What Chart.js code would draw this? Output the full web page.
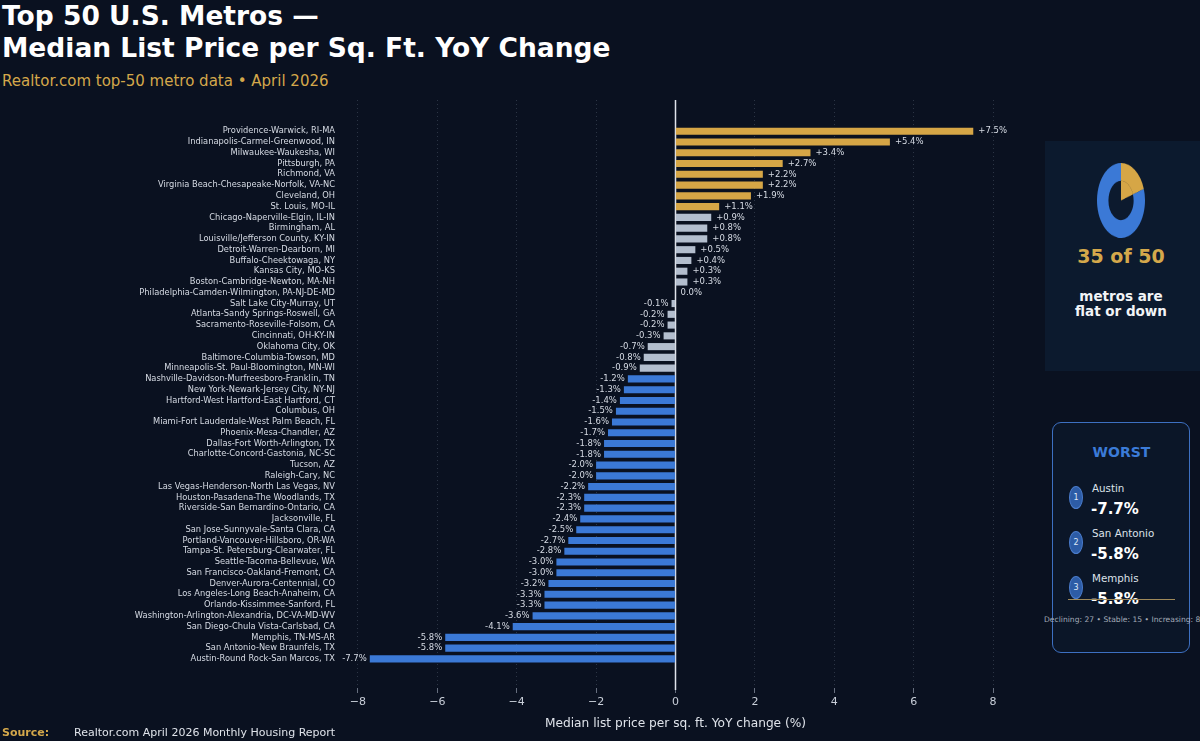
<!DOCTYPE html>
<html>
<head>
<meta charset="utf-8">
<script src="https://cdn.jsdelivr.net/npm/chart.js@4"></script>
<style>
  html, body { margin: 0; padding: 0; background: #0a1120; }
  body { width: 1200px; height: 741px; position: relative; overflow: hidden; font-family: "DejaVu Sans", sans-serif; }
  .abs { position: absolute; white-space: nowrap; }
  #title { left: 2px; top: 0px; color: #ffffff; font-weight: bold; font-size: 26.5px; line-height: 32px; }
  #subtitle { left: 2px; top: 72px; color: #d4a84b; font-size: 15px; }
  #main { position: absolute; left: 0; top: 0; }
  #panel1 { left: 1045px; top: 141px; width: 155px; height: 230px; background: #0c1a2e; }
  #donutWrap { left: 1097px; top: 163px; width: 48px; height: 48px; transform-origin: 0 0; transform: scaleY(1.56); }
  #bigNum { left: 1045px; width: 152px; top: 245px; text-align: center; color: #d4a84b; font-weight: bold; font-size: 19px; }
  #flatTxt { left: 1045px; width: 152px; top: 289px; text-align: center; color: #f2f4f7; font-weight: bold; font-size: 13.5px; line-height: 15px; }
  #panel2 { left: 1052px; top: 422px; width: 136px; height: 229px; border: 1.5px solid #3d70c2; border-radius: 9px; background: #0b1628; }
  #worstHd { left: 1052px; width: 139px; top: 444px; text-align: center; color: #3b7bd8; font-weight: bold; font-size: 14px; }
  .badge { width: 12px; height: 21px; border-radius: 50%; background: #2d5ca6; border: 1px solid #4a7ccc; color: #dfe8f7; font-size: 8px; line-height: 21px; text-align: center; }
  .wname { color: #dde2ea; font-size: 10.3px; }
  .wval { color: #ffffff; font-weight: bold; font-size: 15px; }
  #goldLine { left: 1068px; top: 599px; width: 107px; height: 1.3px; background: #a08a5a; }
  #stats { left: 1044px; width: 155px; top: 615px; text-align: center; color: #a3abb8; font-size: 7.6px; }
  #source { left: 2px; top: 726px; color: #d4a84b; font-weight: bold; font-size: 11px; }
  #sourceTxt { left: 74px; top: 726px; color: #dfe3ea; font-size: 11px; }
</style>
</head>
<body>
<div id="title" class="abs">Top 50 U.S. Metros —<br>Median List Price per Sq. Ft. YoY Change</div>
<div id="subtitle" class="abs">Realtor.com top-50 metro data • April 2026</div>
<canvas id="main" width="1030" height="741"></canvas>

<div id="panel1" class="abs"></div>
<div id="donutWrap" class="abs"><canvas id="donut" width="48" height="48"></canvas></div>
<div id="bigNum" class="abs"></div>
<div id="flatTxt" class="abs">metros are<br>flat or down</div>

<div id="panel2" class="abs"></div>
<div id="worstHd" class="abs">WORST</div>
<div id="worstList"></div>
<div id="goldLine" class="abs"></div>
<div id="stats" class="abs"></div>

<div id="source" class="abs">Source:</div>
<div id="sourceTxt" class="abs">Realtor.com April 2026 Monthly Housing Report</div>

<script>
// metros, top to bottom as drawn
const metros = [
  'Providence-Warwick, RI-MA', 'Indianapolis-Carmel-Greenwood, IN', 'Milwaukee-Waukesha, WI',
  'Pittsburgh, PA', 'Richmond, VA', 'Virginia Beach-Chesapeake-Norfolk, VA-NC', 'Cleveland, OH',
  'St. Louis, MO-IL', 'Chicago-Naperville-Elgin, IL-IN', 'Birmingham, AL',
  'Louisville/Jefferson County, KY-IN', 'Detroit-Warren-Dearborn, MI', 'Buffalo-Cheektowaga, NY',
  'Kansas City, MO-KS', 'Boston-Cambridge-Newton, MA-NH', 'Philadelphia-Camden-Wilmington, PA-NJ-DE-MD',
  'Salt Lake City-Murray, UT', 'Atlanta-Sandy Springs-Roswell, GA', 'Sacramento-Roseville-Folsom, CA',
  'Cincinnati, OH-KY-IN', 'Oklahoma City, OK', 'Baltimore-Columbia-Towson, MD',
  'Minneapolis-St. Paul-Bloomington, MN-WI', 'Nashville-Davidson-Murfreesboro-Franklin, TN',
  'New York-Newark-Jersey City, NY-NJ', 'Hartford-West Hartford-East Hartford, CT', 'Columbus, OH',
  'Miami-Fort Lauderdale-West Palm Beach, FL', 'Phoenix-Mesa-Chandler, AZ', 'Dallas-Fort Worth-Arlington, TX',
  'Charlotte-Concord-Gastonia, NC-SC', 'Tucson, AZ', 'Raleigh-Cary, NC',
  'Las Vegas-Henderson-North Las Vegas, NV', 'Houston-Pasadena-The Woodlands, TX',
  'Riverside-San Bernardino-Ontario, CA', 'Jacksonville, FL', 'San Jose-Sunnyvale-Santa Clara, CA',
  'Portland-Vancouver-Hillsboro, OR-WA', 'Tampa-St. Petersburg-Clearwater, FL', 'Seattle-Tacoma-Bellevue, WA',
  'San Francisco-Oakland-Fremont, CA', 'Denver-Aurora-Centennial, CO', 'Los Angeles-Long Beach-Anaheim, CA',
  'Orlando-Kissimmee-Sanford, FL', 'Washington-Arlington-Alexandria, DC-VA-MD-WV',
  'San Diego-Chula Vista-Carlsbad, CA', 'Memphis, TN-MS-AR', 'San Antonio-New Braunfels, TX',
  'Austin-Round Rock-San Marcos, TX'
];
const yoyChange = [
  7.5, 5.4, 3.4, 2.7, 2.2, 2.2, 1.9, 1.1, 0.9, 0.8,
  0.8, 0.5, 0.4, 0.3, 0.3, 0.0, -0.1, -0.2, -0.2, -0.3,
  -0.7, -0.8, -0.9, -1.2, -1.3, -1.4, -1.5, -1.6, -1.7, -1.8,
  -1.8, -2.0, -2.0, -2.2, -2.3, -2.3, -2.4, -2.5, -2.7, -2.8,
  -3.0, -3.0, -3.2, -3.3, -3.3, -3.6, -4.1, -5.8, -5.8, -7.7
];
const xTicks = [-8, -6, -4, -2, 0, 2, 4, 6, 8];

// side panels
const donutSlices = [10, 40];          // gold wedge, blue ring (as drawn)
const flatOrDown = 35, totalMetros = 50;
const worstNames = ['Austin', 'San Antonio', 'Memphis'];
const worstValues = [-7.7, -5.8, -5.8];
const statLabels = ['Declining', 'Stable', 'Increasing'];
const statCounts = [27, 15, 8];

const GOLD = '#d6a646', GREY = '#b3bece', BLUE = '#3b79d6';
const TXT = '#d6dbe4';

function barColor(v) {
  if (v > 1) return GOLD;
  if (v > -1) return GREY;
  return BLUE;
}
function fmt(v) {
  if (v > 0) return '+' + v.toFixed(1) + '%';
  return v.toFixed(1) + '%';
}

const valueLabels = {
  id: 'valueLabels',
  beforeDatasetsDraw(chart) {
    // zero reference line
    const ctx = chart.ctx, x = chart.scales.x.getPixelForValue(0);
    ctx.save();
    ctx.strokeStyle = '#dfe3ea';
    ctx.lineWidth = 1.5;
    ctx.beginPath();
    ctx.moveTo(x, chart.chartArea.top);
    ctx.lineTo(x, chart.chartArea.bottom + 2);
    ctx.stroke();
    ctx.restore();
  },
  afterDatasetsDraw(chart) {
    const ctx = chart.ctx;
    const meta = chart.getDatasetMeta(0);
    ctx.save();
    ctx.font = '8.5px "DejaVu Sans"';
    ctx.fillStyle = TXT;
    ctx.textBaseline = 'middle';
    meta.data.forEach((el, i) => {
      const v = yoyChange[i];
      if (v < 0) {
        ctx.textAlign = 'right';
        ctx.fillText(fmt(v), el.x - 3, el.y);
      } else {
        ctx.textAlign = 'left';
        ctx.fillText(fmt(v), el.x + 5, el.y);
      }
    });
    ctx.restore();
  }
};

new Chart(document.getElementById('main'), {
  type: 'bar',
  data: {
    datasets: [{
      data: yoyChange.map((v, i) => ({ x: v, y: i })),
      backgroundColor: yoyChange.map(barColor),
      borderWidth: 0,
      categoryPercentage: 1,
      barPercentage: 0.66
    }]
  },
  options: {
    indexAxis: 'y',
    responsive: false,
    animation: false,
    devicePixelRatio: 1,
    layout: { padding: { top: 100, right: 21, left: 0, bottom: 0 } },
    plugins: { legend: { display: false }, tooltip: { enabled: false } },
    scales: {
      x: {
        type: 'linear',
        min: -8.4,
        max: 8.4,
        afterFit(axis) { axis.height = 53; },
        afterBuildTicks(axis) { axis.ticks = xTicks.map(v => ({ value: v })); },
        ticks: {
          color: '#c9cfd9',
          font: { family: 'DejaVu Sans', size: 11 },
          padding: 3,
          callback: v => (v < 0 ? '\u2212' + Math.abs(v) : String(v))
        },
        grid: {
          color: c => (c.tick && c.tick.value === 0 ? 'rgba(0,0,0,0)' : 'rgba(120,132,152,0.4)'),
          lineWidth: 0.8,
          tickColor: '#7f8898',
          tickLength: 5,
          tickBorderDash: []
        },
        border: { display: false, dash: [1, 3] },
        title: {
          display: true,
          text: 'Median list price per sq. ft. YoY change (%)',
          color: '#dfe3ea',
          font: { family: 'DejaVu Sans', size: 12.2 },
          padding: { top: 0, bottom: 10 }
        }
      },
      y: {
        type: 'linear',
        reverse: true,
        offset: false,
        min: -2.9,
        max: 51.7,
        afterFit(axis) { axis.width = 342; },
        afterBuildTicks(axis) { axis.ticks = metros.map((m, i) => ({ value: i })); },
        ticks: {
          autoSkip: false,
          color: TXT,
          padding: 7,
          font: { family: 'DejaVu Sans', size: 8.3 },
          callback: v => metros[v] || ''
        },
        grid: { display: false, drawTicks: false, offset: false },
        border: { display: false }
      }
    }
  },
  plugins: [valueLabels]
});

// donut: gold wedge reaches the centre, blue is a ring
new Chart(document.getElementById('donut'), {
  type: 'doughnut',
  data: {
    datasets: [
      { data: donutSlices, backgroundColor: [GOLD, BLUE], borderWidth: 0, weight: 1 },
      { data: donutSlices, backgroundColor: [GOLD, 'rgba(0,0,0,0)'], borderWidth: 0, weight: 1.1 }
    ]
  },
  options: {
    responsive: false,
    animation: false,
    devicePixelRatio: 2,
    cutout: 0,
    plugins: { legend: { display: false }, tooltip: { enabled: false } }
  }
});

document.getElementById('bigNum').textContent = flatOrDown + ' of ' + totalMetros;
document.getElementById('stats').textContent =
  statLabels.map((s, i) => s + ': ' + statCounts[i]).join(' \u2022 ');

const list = document.getElementById('worstList');
const rowTops = [480, 525, 570];
worstNames.forEach((n, i) => {
  const t = rowTops[i];
  list.insertAdjacentHTML('beforeend',
    '<div class="abs badge" style="left:1069px;top:' + (t + 6) + 'px">' + (i + 1) + '</div>' +
    '<div class="abs wname" style="left:1092px;top:' + (t + 2) + 'px">' + n + '</div>' +
    '<div class="abs wval" style="left:1091px;top:' + (t + 20) + 'px">' + worstValues[i].toFixed(1) + '%</div>');
});
</script>
</body>
</html>
